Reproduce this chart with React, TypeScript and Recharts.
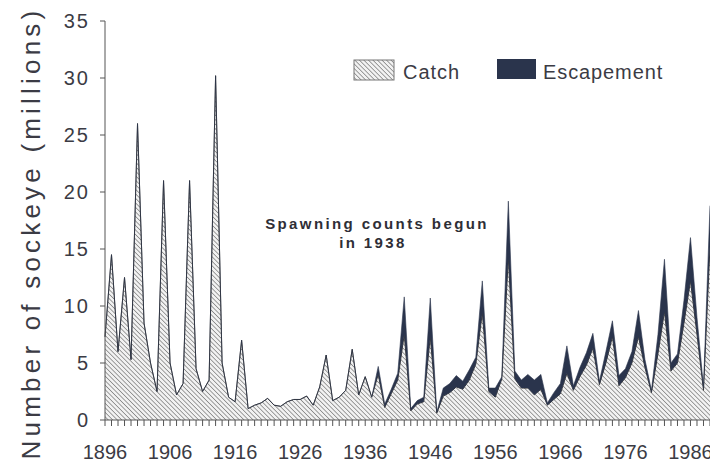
import { AreaChart, Area, XAxis, YAxis } from "recharts"

const years = Array.from({ length: 1989 - 1896 + 1 }, (_, i) => 1896 + i)

// catch, millions of fish, 1896-1989
const catchValues = [
  7.3, 14.5, 6.0, 12.5, 5.3, 26.0, 8.5, 5.0, 2.5, 21.0,
  5.0, 2.2, 3.2, 21.0, 4.5, 2.5, 3.5, 30.2, 5.0, 2.0,
  1.6, 7.0, 1.0, 1.3, 1.5, 1.9, 1.3, 1.2, 1.6, 1.8,
  1.8, 2.1, 1.3, 2.9, 5.7, 1.7, 2.0, 2.6, 6.2, 2.2,
  3.8, 2.0, 4.0, 1.1, 2.3, 3.5, 7.5, 0.8, 1.4, 1.6,
  7.3, 0.6, 2.1, 2.4, 2.9, 2.7, 3.5, 4.9, 9.4, 2.5,
  2.0, 3.6, 14.2, 3.6, 2.8, 2.8, 2.2, 2.7, 1.3, 1.8,
  2.3, 4.1, 2.6, 3.8, 4.8, 6.3, 3.1, 5.0, 7.3, 3.0,
  3.7, 5.0, 7.3, 4.6, 2.4, 5.8, 9.5, 4.3, 5.0, 8.5,
  12.2, 7.5, 2.6, 15.2,
]

// escapement, counted from 1938
const escapementValues = [
  0, 0, 0, 0, 0, 0, 0, 0, 0, 0,
  0, 0, 0, 0, 0, 0, 0, 0, 0, 0,
  0, 0, 0, 0, 0, 0, 0, 0, 0, 0,
  0, 0, 0, 0, 0, 0, 0, 0, 0, 0,
  0, 0, 0.7, 0.3, 0.4, 0.6, 3.3, 0.2, 0.3, 0.4,
  3.4, 0.1, 0.7, 0.8, 1.0, 0.7, 0.9, 0.6, 2.8, 0.3,
  0.8, 0.2, 5.0, 0.7, 0.7, 1.2, 1.3, 1.3, 0.2, 0.6,
  0.9, 2.4, 0.4, 0.8, 1.1, 1.3, 0.3, 1.0, 1.4, 0.9,
  0.8, 1.0, 2.3, 0.7, 0.2, 1.7, 4.6, 0.7, 0.8, 2.0,
  3.8, 1.5, 0.3, 3.6,
]

const yTicks = [0, 5, 10, 15, 20, 25, 30, 35]

const data = years.map((year, i) => ({
  year,
  catch: catchValues[i],
  escapement: escapementValues[i],
}))

const TEXT = "#3b3b44"
const NAVY = "#2a344c"
const FONT = "'Liberation Sans', Arial, sans-serif"

export default function App() {
  return (
    <div style={{ position: "absolute", top: 0, left: 0, width: 710, height: 462, background: "#fff", fontFamily: FONT }}>
      <AreaChart width={710} height={462} data={data} margin={{ top: 21, right: 0, left: 0, bottom: 12 }}>
        <defs>
          <pattern id="hatch" width={3.2} height={3.2} patternUnits="userSpaceOnUse" patternTransform="rotate(-45)">
            <rect width={3.2} height={3.2} fill="#f2f2f2" />
            <line x1={0} y1={0} x2={0} y2={3.2} stroke="#4a4a4a" strokeWidth={1} />
          </pattern>
        </defs>
        <XAxis
          dataKey="year"
          type="number"
          domain={[1896, 1989]}
          ticks={years}
          interval={0}
          tickFormatter={(v: number) => ((v - 1896) % 10 === 0 ? String(v) : "")}
          tick={{ fontSize: 20, fill: TEXT, fontFamily: FONT }}
          tickSize={6}
          tickMargin={19}
          stroke="#555"
          height={30}
        />
        {/* top frame line */}
        <XAxis
          xAxisId="top"
          orientation="top"
          dataKey="year"
          type="number"
          domain={[1896, 1989]}
          tick={false}
          tickLine={false}
          stroke="#666"
          height={0}
        />
        <YAxis
          type="number"
          domain={[0, 35]}
          ticks={yTicks}
          width={105}
          tick={{ fontSize: 20, fill: TEXT, fontFamily: FONT, letterSpacing: 2 }}
          tickSize={5}
          tickMargin={10}
          stroke="#555"
        />
        <Area
          type="linear"
          dataKey="catch"
          stackId="run"
          fill="url(#hatch)"
          fillOpacity={1}
          stroke="#3a3a3a"
          strokeWidth={1}
          isAnimationActive={false}
        />
        <Area
          type="linear"
          dataKey="escapement"
          stackId="run"
          fill={NAVY}
          fillOpacity={1}
          stroke={NAVY}
          strokeWidth={0.6}
          isAnimationActive={false}
        />
        <text
          x={31}
          y={233}
          transform="rotate(-90, 31, 233)"
          textAnchor="middle"
          dominantBaseline="central"
          fontSize={26}
          fill={TEXT}
          fontFamily={FONT}
          letterSpacing={4.2}
        >
          Number of sockeye (millions)
        </text>
        <g>
          <rect x={354} y={60} width={40} height={20} fill="url(#hatch)" stroke="#777" strokeWidth={1} />
          <text x={403} y={79} fontSize={20} fill={TEXT} fontFamily={FONT} letterSpacing={1}>Catch</text>
          <rect x={497} y={59} width={39} height={20} fill={NAVY} />
          <text x={543} y={79} fontSize={20} fill={TEXT} fontFamily={FONT} letterSpacing={0.9}>Escapement</text>
        </g>
        <text x={377} y={229} textAnchor="middle" fontSize={15} fontWeight="bold" fill="#2e2e36" fontFamily={FONT} letterSpacing={2.4}>
          Spawning counts begun
        </text>
        <text x={373} y={248} textAnchor="middle" fontSize={15} fontWeight="bold" fill="#2e2e36" fontFamily={FONT} letterSpacing={2.4}>
          in 1938
        </text>
      </AreaChart>
    </div>
  )
}
